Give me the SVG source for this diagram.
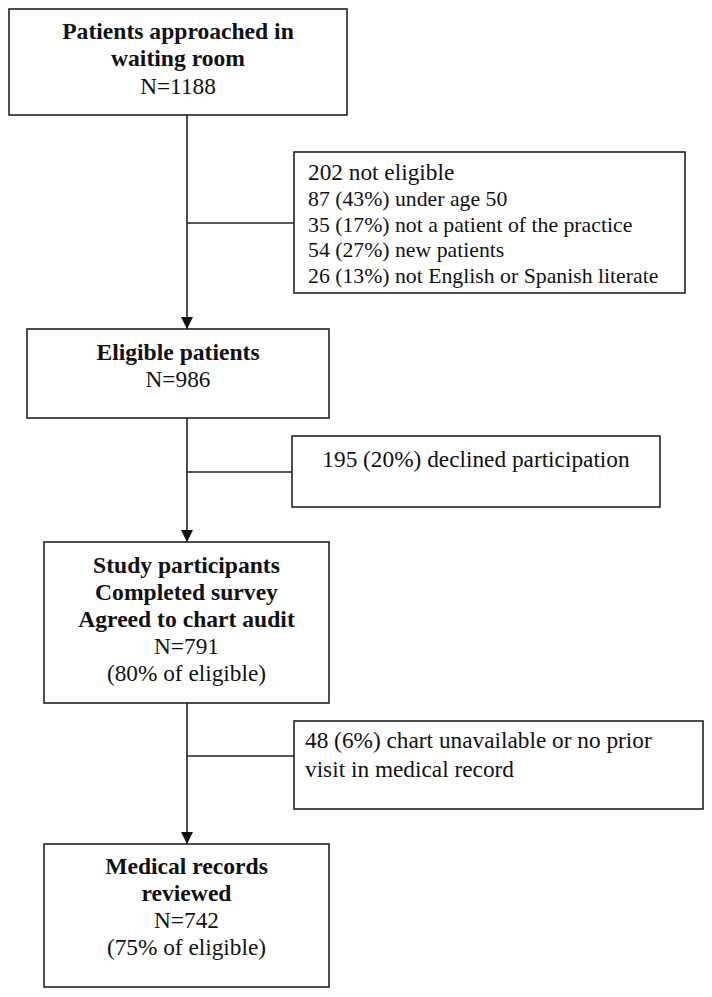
<svg xmlns="http://www.w3.org/2000/svg" width="712" height="997" viewBox="0 0 712 997">
<defs>
<style>
.box{fill:#fff;stroke:#222;stroke-width:1.6}
.ln{fill:none;stroke:#222;stroke-width:1.6}
.b{font-family:"Liberation Serif","Times New Roman",serif;font-weight:bold;font-size:23.6px;fill:#111;text-anchor:middle}
.r{font-family:"Liberation Serif","Times New Roman",serif;font-size:23.3px;fill:#111}
.c{text-anchor:middle}
.s{font-size:21.75px}
</style>
<marker id="ah" markerUnits="userSpaceOnUse" markerWidth="12" markerHeight="12" viewBox="0 0 12 12" refX="12" refY="6" orient="auto">
<path d="M0,0 L12,6 L0,12 Z" fill="#111"/>
</marker>
</defs>
<rect width="712" height="997" fill="#fff"/>
<g id="connectors">
<path class="ln" d="M187,115 V329" marker-end="url(#ah)"/>
<path class="ln" d="M187,223 H294"/>
<path class="ln" d="M187,418 V542" marker-end="url(#ah)"/>
<path class="ln" d="M187,472 H292"/>
<path class="ln" d="M187,703 V844" marker-end="url(#ah)"/>
<path class="ln" d="M187,756 H294"/>
</g>
<g id="approached">
<rect class="box" x="9" y="9" width="338" height="106"/>
<text class="b" x="178" y="39">Patients approached in</text>
<text class="b" x="178" y="66">waiting room</text>
<text class="r c" x="178" y="94">N=1188</text>
</g>
<g id="not-eligible">
<rect class="box" x="294" y="152" width="391" height="141"/>
<text class="r" x="308" y="180">202 not eligible</text>
<text class="r s" x="308" y="206">87 (43%) under age 50</text>
<text class="r s" x="308" y="232">35 (17%) not a patient of the practice</text>
<text class="r s" x="308" y="257">54 (27%) new patients</text>
<text class="r s" x="308" y="283">26 (13%) not English or Spanish literate</text>
</g>
<g id="eligible">
<rect class="box" x="27" y="329" width="302" height="89"/>
<text class="b" x="178" y="360">Eligible patients</text>
<text class="r c" x="178" y="387">N=986</text>
</g>
<g id="declined">
<rect class="box" x="292" y="436" width="368" height="71"/>
<text class="r c" x="476" y="467">195 (20%) declined participation</text>
</g>
<g id="participants">
<rect class="box" x="44" y="542" width="285" height="161"/>
<text class="b" x="186.5" y="573">Study participants</text>
<text class="b" x="186.5" y="600">Completed survey</text>
<text class="b" x="186.5" y="627">Agreed to chart audit</text>
<text class="r c" x="186.5" y="654">N=791</text>
<text class="r c" x="186.5" y="681">(80% of eligible)</text>
</g>
<g id="unavailable">
<rect class="box" x="294" y="721" width="409" height="88"/>
<text class="r" x="305" y="748">48 (6%) chart unavailable or no prior</text>
<text class="r" x="305" y="777">visit in medical record</text>
</g>
<g id="reviewed">
<rect class="box" x="44" y="844" width="285" height="143"/>
<text class="b" x="186.5" y="874">Medical records</text>
<text class="b" x="186.5" y="901">reviewed</text>
<text class="r c" x="186.5" y="928">N=742</text>
<text class="r c" x="186.5" y="955">(75% of eligible)</text>
</g>
</svg>
